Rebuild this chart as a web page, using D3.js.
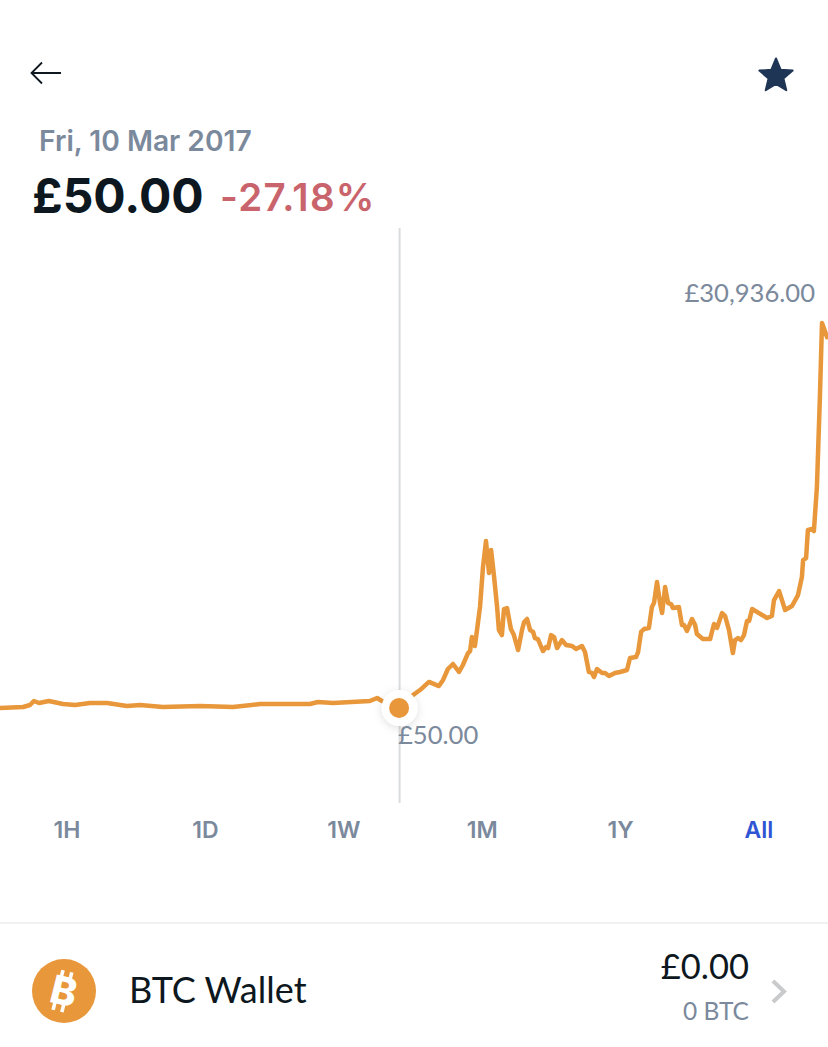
<!DOCTYPE html>
<html>
<head>
<meta charset="utf-8">
<script src="https://cdn.jsdelivr.net/npm/d3@7"></script>
<style>html,body{margin:0;padding:0;background:#fff;overflow:hidden}svg{display:block}</style>
</head>
<body>
<script>
const days = [0,77,100,113,130,163,210,250,300,357,423,467,543,667,777,867,1033,1060,1110,1233,1257,1273,1330,1377,1400,1430,1463,1477,1493,1510,1530,1543,1560,1567,1573,1583,1590,1600,1610,1620,1630,1637,1647,1657,1663,1673,1680,1690,1703,1713,1727,1740,1747,1757,1767,1777,1783,1793,1810,1820,1827,1837,1847,1857,1873,1887,1907,1920,1940,1950,1963,1973,1980,1990,2007,2017,2030,2050,2067,2090,2100,2120,2127,2137,2147,2163,2173,2180,2190,2200,2207,2217,2227,2237,2243,2263,2273,2280,2290,2307,2317,2323,2343,2367,2380,2390,2407,2417,2430,2443,2450,2460,2470,2480,2490,2497,2507,2557,2573,2580,2597,2617,2640,2660,2673,2677,2687,2693,2707,2713,2723,2733,2740,2757];
const prices = [50,130,290,610,450,610,370,290,450,450,210,290,130,210,130,370,370,530,450,610,850,610,50,1090,1490,2140,1810,2300,3180,3580,2940,3500,4460,4620,5740,5020,6300,8150,11360,13440,10880,12720,10560,8150,6300,5900,7990,8070,6390,5900,4700,6300,6950,7190,6300,6150,5660,5580,4620,4940,4860,5900,5740,4860,5500,5100,5020,4780,5020,4540,2940,2860,2540,3180,2860,2860,2620,2860,2940,3100,4060,4140,4540,6150,6390,6470,8150,8470,10160,8470,7670,9750,8470,8390,8070,8150,6710,6710,6230,7190,6710,5980,5580,5580,6790,6470,7670,7430,6300,4460,5500,5660,5500,5900,7030,7030,7990,7270,7430,8710,9430,7910,8230,9110,10560,11920,12080,14330,14410,14250,17770,24990,30936,29800];
const ranges = ["1H","1D","1W","1M","1Y","All"];
const activeRange = "All";
const selectedDay = 1332;
const selectedPrice = 50;
const maxPrice = 30936;

const W = 828, H = 1047;
const x = d3.scaleLinear().domain([0,2760]).range([0,W]);
const y = d3.scaleLinear().domain([50,30936]).range([708,323]);
const tabX = d3.scalePoint().domain(ranges).range([67,759]);

const svg = d3.select("body").append("svg").attr("width",W).attr("height",H).attr("viewBox",`0 0 ${W} ${H}`);
const defs = svg.append("defs");
const f = defs.append("filter").attr("id","sh").attr("x","-50%").attr("y","-50%").attr("width","200%").attr("height","200%");
f.append("feDropShadow").attr("dx",0).attr("dy",2).attr("stdDeviation",4).attr("flood-color","#000").attr("flood-opacity",0.13);

const ui = "Inter, 'Noto Sans', sans-serif";
const soft = "Lato, 'Open Sans', sans-serif";
function T(px,py,s,size,weight,fill,anchor,fam){
  return svg.append("text").attr("x",px).attr("y",py).text(s)
    .attr("font-size",size).attr("font-weight",weight).attr("fill",fill)
    .attr("text-anchor",anchor||"start").attr("font-family",fam||ui);
}

// header
svg.append("path").attr("d","M61 73H32M42 62.5L31.5 73L42 83.5").attr("fill","none").attr("stroke","#10181f").attr("stroke-width",1.8);
const star = d3.range(10).map(i=>{const r=i%2?7.8:17.5,a=-Math.PI/2+i*Math.PI/5;return [r*Math.cos(a),r*Math.sin(a)];});
svg.append("path").attr("transform","translate(776,76)").attr("d",d3.line().curve(d3.curveLinearClosed)(star))
  .attr("fill","#1f3556").attr("stroke","#1f3556").attr("stroke-width",2).attr("stroke-linejoin","round");
T(39,151,"Fri, 10 Mar 2017",28.2,600,"#7b899c");
T(32,213,"£50.00",48,700,"#0d1720");
T(220,211,"-27.18%",38.5,600,"#c9636c").attr("letter-spacing",1.3);

// chart
svg.append("line").attr("x1",x(selectedDay)).attr("x2",x(selectedDay)).attr("y1",228).attr("y2",803).attr("stroke","#dadcdf").attr("stroke-width",2);
const line = d3.line().x((d,i)=>x(days[i])).y(d=>y(d));
svg.append("path").datum(prices).attr("d",line).attr("fill","none").attr("stroke","#e8973a").attr("stroke-width",4.5).attr("stroke-linejoin","round").attr("stroke-linecap","round");
svg.append("circle").attr("cx",x(selectedDay)).attr("cy",y(selectedPrice)).attr("r",18).attr("fill","#fff").attr("filter","url(#sh)");
svg.append("circle").attr("cx",x(selectedDay)-0.5).attr("cy",y(selectedPrice)).attr("r",10).attr("fill","#e8973a");
T(815,302,"£"+d3.format(",.2f")(maxPrice),25.6,400,"#7b899c","end",soft);
T(398,744,"£"+d3.format(".2f")(selectedPrice),25.6,400,"#7b899c","start",soft);

// range tabs
svg.append("g").selectAll("text").data(ranges).join("text")
  .attr("x",d=>tabX(d)).attr("y",838).attr("text-anchor","middle").text(d=>d)
  .attr("font-family",ui).attr("font-size",23).attr("font-weight",600)
  .attr("fill",d=>d===activeRange?"#2f55d4":"#7b899c");

// wallet row
svg.append("line").attr("x1",0).attr("x2",W).attr("y1",923).attr("y2",923).attr("stroke","#ebedef").attr("stroke-width",1.5);
svg.append("circle").attr("cx",64).attr("cy",991).attr("r",32).attr("fill","#e8973a");
const b = svg.append("g").attr("transform","translate(64,991) rotate(14)");
b.append("text").text("B").attr("text-anchor","middle").attr("y",14).attr("font-family",ui).attr("font-weight",800).attr("font-size",39).attr("fill","#fff");
b.append("path").attr("d","M-6 -20V-12M3 -20V-12M-6 13V21M3 13V21").attr("stroke","#fff").attr("stroke-width",3.6);
T(129,1003,"BTC Wallet",36,400,"#0d1720","start",soft);
T(749,979,"£0.00",34.5,400,"#0d1720","end",soft);
T(749,1020,"0 BTC",24.5,400,"#7b899c","end",soft);
svg.append("path").attr("d","M773 981L784 991.5L773 1002").attr("fill","none").attr("stroke","#c8cacc").attr("stroke-width",4);
</script>
</body>
</html>
